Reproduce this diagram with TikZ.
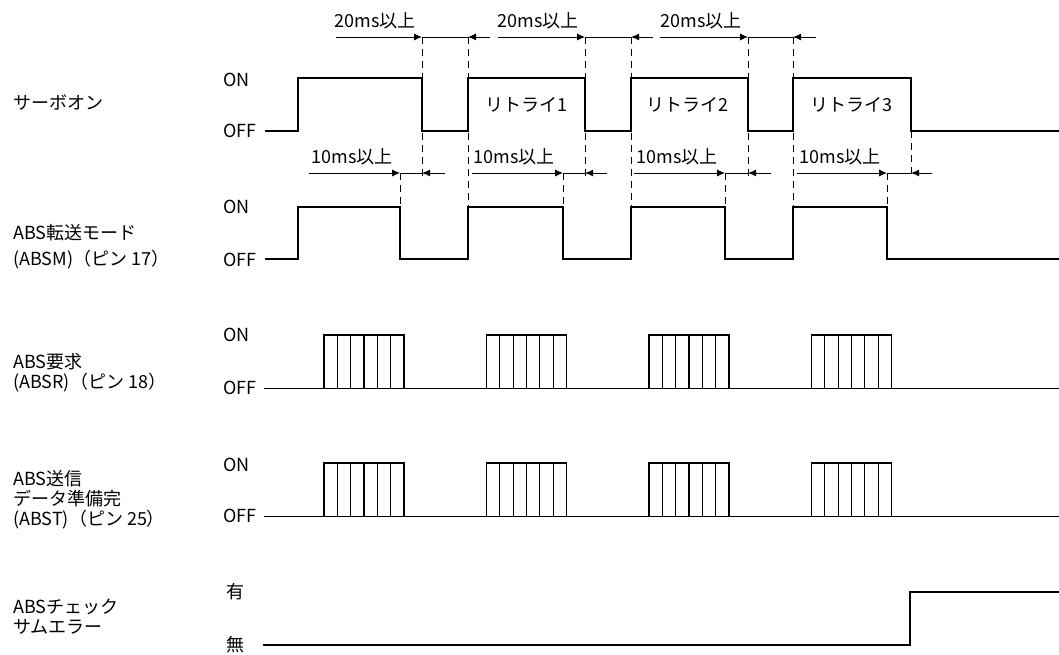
\documentclass[tikz,border=0pt]{standalone}
\usepackage{fontspec}
\setmainfont{Noto Sans CJK JP}
\usepackage{tikz}
\usetikzlibrary{arrows.meta}

\begin{document}
\begin{tikzpicture}[x=1pt,y=-1pt,
  wave/.style={line width=1.3pt},
  dimline/.style={line width=0.9pt},
  dimarrow/.style={-{Latex[length=8pt,width=7pt]},line width=0.9pt},
  guide/.style={dash pattern=on 7pt off 5pt,line width=0.9pt},
  lbl/.style={font=\fontsize{18}{20}\selectfont,inner sep=0pt}]

\useasboundingbox (0,0) rectangle (1059,655);

% signal names
\node[lbl,anchor=west] (servoname) at (13,103) {サーボオン};
\node[lbl,anchor=west,align=left] (absmname) at (13,246.5) {ABS転送モード\\[6pt](ABSM)（ピン 17）};
\node[lbl,anchor=west,align=left] (absrname) at (13,373) {ABS要求\\(ABSR)（ピン 18）};
\node[lbl,anchor=west,align=left] (abstname) at (13,500) {ABS送信\\データ準備完\\(ABST)（ピン 25）};
\node[lbl,anchor=west,align=left] (errname) at (13,617) {ABSチェック\\サムエラー};

% levels
\node[lbl,anchor=west] (servoon) at (223,80) {ON};
\node[lbl,anchor=west] (servooff) at (223,131) {OFF};
\node[lbl,anchor=west] (absmon) at (223,207) {ON};
\node[lbl,anchor=west] (absmoff) at (223,260) {OFF};
\node[lbl,anchor=west] (absron) at (223,335) {ON};
\node[lbl,anchor=west] (absroff) at (223,388) {OFF};
\node[lbl,anchor=west] (abston) at (223,465) {ON};
\node[lbl,anchor=west] (abstoff) at (223,516) {OFF};
\node[lbl] (erron) at (235,592) {有};
\node[lbl] (erroff) at (235,645) {無};

% servo on
\draw[wave] (265,131) -- (298,131) -- (298,78) -- (422,78) -- (422,131) -- (468,131)
  -- (468,78) -- (585,78) -- (585,131) -- (631,131) -- (631,78) -- (748,78)
  -- (748,131) -- (793,131) -- (793,78) -- (911,78) -- (911,131) -- (1059,131);

% ABSM
\draw[wave] (265,259) -- (298,259) -- (298,207) -- (400,207) -- (400,259) -- (468,259)
  -- (468,207) -- (563,207) -- (563,259) -- (631,259) -- (631,207) -- (725,207)
  -- (725,259) -- (793,259) -- (793,207) -- (887,207) -- (887,259) -- (1059,259);

% ABSR / ABST
\draw[wave] (264,388.5) -- (1059,388.5);
\draw[wave] (264,516.5) -- (1059,516.5);
\foreach \s in {324,486.5,649,811.5}{
  \draw[wave] (\s,388.5) rectangle ++(80,-53.5);
  \draw[wave] (\s,516.5) rectangle ++(80,-53.5);
  \foreach \k in {1,...,5}{
    \draw[wave] (\s+\k*13.333,388.5) -- (\s+\k*13.333,335);
    \draw[wave] (\s+\k*13.333,516.5) -- (\s+\k*13.333,463);
  }
}

% checksum error
\draw[wave] (263,645) -- (910,645) -- (910,592) -- (1059,592);

% guides
\draw[guide] (422,37) -- (422,177);
\draw[guide] (468,37) -- (468,207);
\draw[guide] (585,37) -- (585,177);
\draw[guide] (631,37) -- (631,207);
\draw[guide] (748,37) -- (748,177);
\draw[guide] (793,37) -- (793,207);
\draw[guide] (911,131) -- (911,177);
\draw[guide] (400,173) -- (400,207);
\draw[guide] (563,173) -- (563,207);
\draw[guide] (725,173) -- (725,207);
\draw[guide] (887,173) -- (887,207);

% 20ms
\draw[dimarrow] (336,37) -- (422,37); %1
\draw[dimline] (422,37) -- (468,37);
\draw[dimarrow] (490,37) -- (468,37);
\draw[dimarrow] (498,37) -- (585,37); %2
\draw[dimline] (585,37) -- (631,37);
\draw[dimarrow] (653,37) -- (631,37);
\draw[dimarrow] (660,37) -- (748,37); %3
\draw[dimline] (748,37) -- (793,37);
\draw[dimarrow] (816,37) -- (793,37);

% 10ms
\draw[dimarrow] (309,173) -- (400,173); %1
\draw[dimline] (400,173) -- (422,173);
\draw[dimarrow] (445,173) -- (422,173);
\draw[dimarrow] (472,173) -- (563,173); %2
\draw[dimline] (563,173) -- (585,173);
\draw[dimarrow] (607,173) -- (585,173);
\draw[dimarrow] (634,173) -- (725,173); %3
\draw[dimline] (725,173) -- (748,173);
\draw[dimarrow] (771,173) -- (748,173);
\draw[dimarrow] (797,173) -- (887,173); %4
\draw[dimline] (887,173) -- (911,173);
\draw[dimarrow] (932,173) -- (911,173);

\node[lbl] (offa) at (375,21) {20ms以上};
\node[lbl] (offb) at (538,21) {20ms以上};
\node[lbl] (offc) at (701,21) {20ms以上};
\node[lbl] (waita) at (352,157) {10ms以上};
\node[lbl] (waitb) at (514,157) {10ms以上};
\node[lbl] (waitc) at (677,157) {10ms以上};
\node[lbl] (waitd) at (840,157) {10ms以上};
\node[lbl] (retrya) at (526,105) {リトライ1};
\node[lbl] (retryb) at (687,105) {リトライ2};
\node[lbl] (retryc) at (851,105) {リトライ3};

\end{tikzpicture}
\end{document}
